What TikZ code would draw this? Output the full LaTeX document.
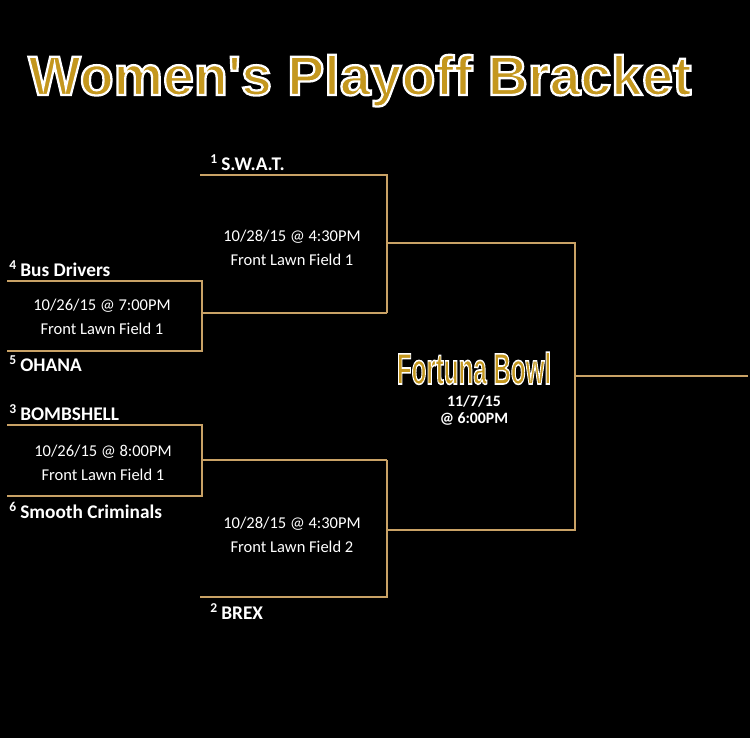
\documentclass[tikz,border=0pt]{standalone}
\usepackage{fontspec}
\setmainfont{Carlito}
\newfontfamily\titlefont{Liberation Sans}
\usepackage{xcolor}
\usetikzlibrary{positioning}
\definecolor{linegold}{HTML}{C9A266}
\definecolor{titlegold}{HTML}{C4971E}
% white outline round gold letters (fill + stroke render mode)
\newcommand{\outlined}[2]{\special{pdf:literal direct 2 Tr #1 w 1 1 1 RG}#2\special{pdf:literal direct 0 Tr}}
\tikzset{
  bracket/.style={draw=linegold, line width=1.2pt},
  team/.style={anchor=base west, inner sep=0pt, text=white, font=\bfseries\fontsize{11}{13}\selectfont},
  game/.style={align=center, inner sep=0pt, text=white, font=\fontsize{9.4}{13.6}\selectfont},
  title/.style={anchor=base west, inner sep=0pt, text=titlegold, font=\titlefont\bfseries\fontsize{31.6}{36}\selectfont},
  bowl/.style={anchor=base, inner sep=0pt, text=titlegold, xscale=0.55, font=\titlefont\bfseries\fontsize{25}{30}\selectfont},
  bowldate/.style={align=center, inner sep=0pt, text=white, font=\bfseries\fontsize{9}{9.4}\selectfont}
}

\begin{document}
\begin{tikzpicture}[x=0.02cm, y=-0.02cm]
\fill[black] (0,0) rectangle (750,738);
\useasboundingbox (0,0) rectangle (750,738);
\node[title] (ttl) at (28,95) {\outlined{1.3}{Women's Playoff Bracket}};
% first round
\coordinate (s4a) at (7,281);   \coordinate (s4b) at (202,281);
\coordinate (s5a) at (7,351);   \coordinate (s5b) at (202,351);
\coordinate (s3a) at (7,425);   \coordinate (s3b) at (202,425);
\coordinate (s6a) at (7,496);   \coordinate (s6b) at (202,496);
\coordinate (q1a) at (202,313); \coordinate (q2a) at (202,460);
% semifinals
\coordinate (s1a) at (200,175); \coordinate (s1b) at (387,175);
\coordinate (s2a) at (200,597); \coordinate (s2b) at (387,597);
\coordinate (q1b) at (387,313); \coordinate (q2b) at (387,460);
\coordinate (f1a) at (387,243); \coordinate (f1b) at (575,243);
\coordinate (f2a) at (387,530); \coordinate (f2b) at (575,530);
% final
\coordinate (wa) at (575,376);  \coordinate (wb) at (748,376);
\draw[bracket] (s4a) -- (s4b) -- (s5b) -- (s5a);
\draw[bracket] (s3a) -- (s3b) -- (s6b) -- (s6a);
\draw[bracket] (q1a) -- (q1b);
\draw[bracket] (q2a) -- (q2b);
\draw[bracket] (s1a) -- (s1b) -- (q1b);
\draw[bracket] (s2a) -- (s2b) -- (q2b);
\draw[bracket] (f1a) -- (f1b) -- (f2b) -- (f2a);
\draw[bracket] (wa) -- (wb);
\node[team] (swat) at (210,170) {\textsuperscript{1}\,S.W.A.T.};
\node[team] (bus) at (9,276) {\textsuperscript{4}\,Bus Drivers};
\node[team] (ohana) at (9,371) {\textsuperscript{5}\,OHANA};
\node[team] (bomb) at (9,420) {\textsuperscript{3}\,BOMBSHELL};
\node[team] (smooth) at (9,518) {\textsuperscript{6}\,Smooth Criminals};
\node[team] (brex) at (210,619) {\textsuperscript{2}\,BREX};
\node[game] (g1) at (102,317) {10/26/15 @ 7:00PM\\Front Lawn Field 1};
\node[game] (g2) at (103,463) {10/26/15 @ 8:00PM\\Front Lawn Field 1};
\node[game] (g3) at (292,248) {10/28/15 @ 4:30PM\\Front Lawn Field 1};
\node[game] (g4) at (292,535) {10/28/15 @ 4:30PM\\Front Lawn Field 2};
\node[bowl] (bowl) at (474,384) {\outlined{0.9}{Fortuna Bowl}};
\node[bowldate, below=6pt of bowl] (fdate) {11/7/15\\@ 6:00PM};
\end{tikzpicture}
\end{document}
